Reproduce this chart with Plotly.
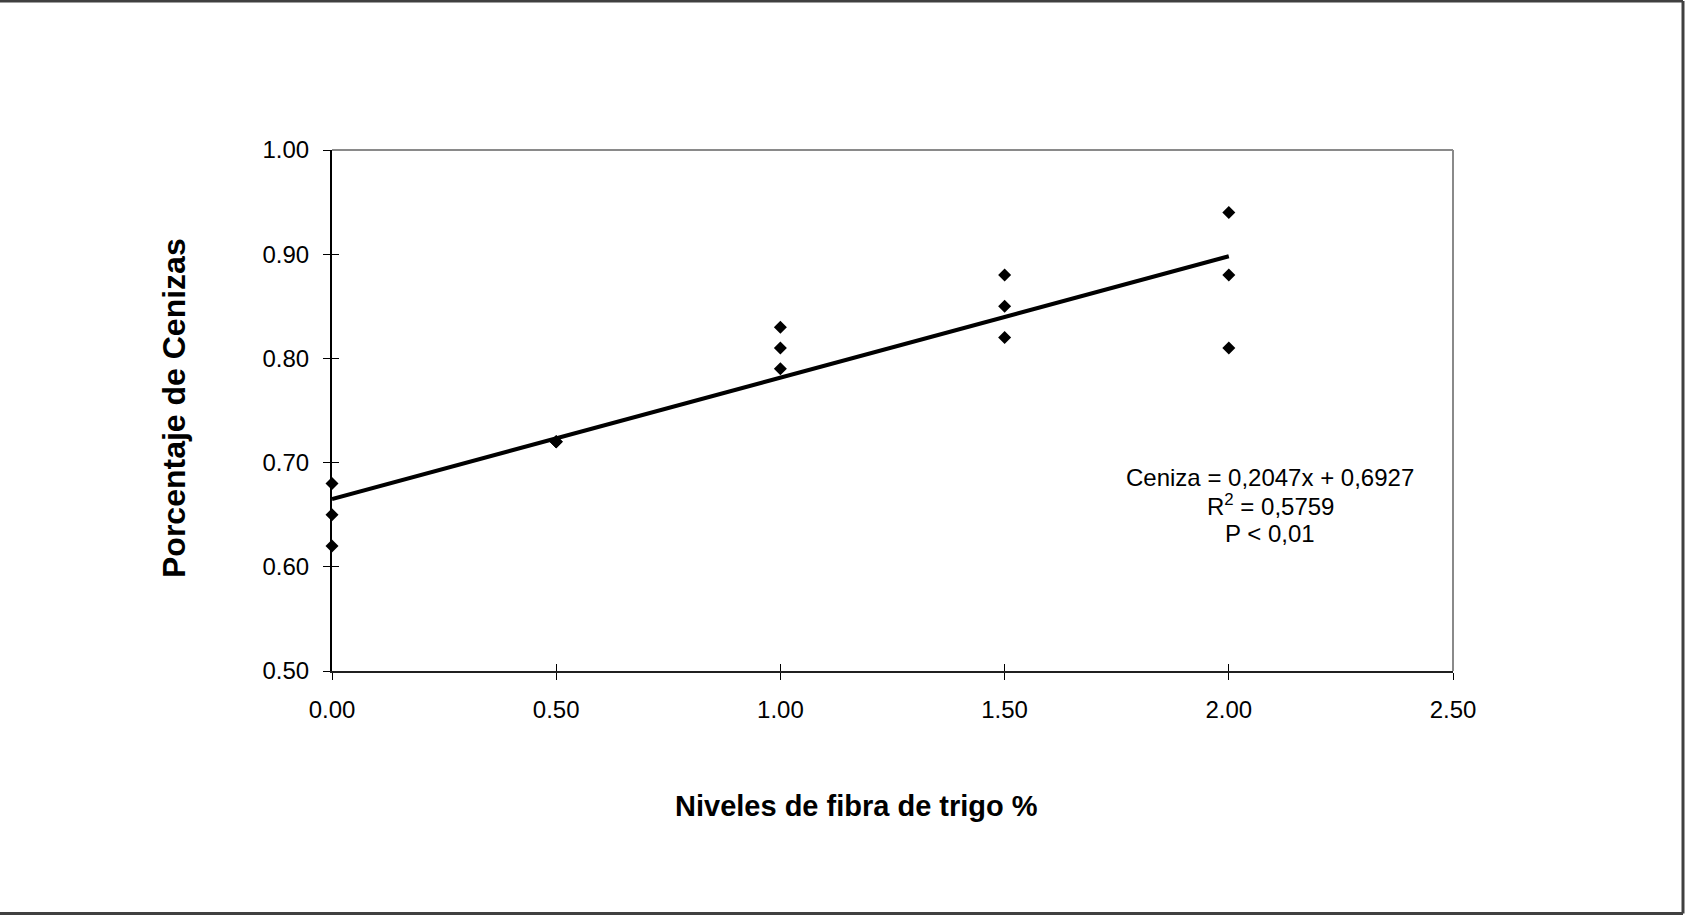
import plotly.graph_objects as go

# ---- data ----
fibra = [0, 0, 0, 0.5, 0.5, 0.5, 1, 1, 1, 1.5, 1.5, 1.5, 2, 2, 2]
ceniza = [0.68, 0.65, 0.62, 0.72, 0.72, 0.72, 0.83, 0.81, 0.79,
          0.88, 0.85, 0.82, 0.94, 0.88, 0.81]
tendencia_x = [0, 2]
tendencia_y = [0.665, 0.898]
x_ticks = [0, 0.5, 1.0, 1.5, 2.0, 2.5]
y_ticks = [0.5, 0.6, 0.7, 0.8, 0.9, 1.0]
ecuacion = ["Ceniza = 0,2047x + 0,6927", "R<sup>2</sup> = 0,5759", "P < 0,01"]

# ---- layout geometry ----
W, H = 1685, 915
L, R, T, B = 332, 232, 150, 244
PW, PH = W - L - R, H - T - B


def px(xp):
    return (xp - L) / PW


def py(yp):
    return (H - B - yp) / PH


FONT = "Liberation Sans, Arial, sans-serif"

fig = go.Figure()
fig.add_trace(go.Scatter(x=fibra, y=ceniza, mode="markers",
                         marker=dict(symbol="diamond", size=10, color="black"),
                         showlegend=False, cliponaxis=False))
fig.add_trace(go.Scatter(x=tendencia_x, y=tendencia_y, mode="lines",
                         line=dict(color="black", width=4),
                         hoverinfo="skip", showlegend=False))
# helper trace for overlay axes (inside ticks)
fig.add_trace(go.Scatter(x=[None], y=[None], xaxis="x2", yaxis="y2",
                         showlegend=False, hoverinfo="skip"))

axis_common = dict(showgrid=False, zeroline=False, ticks="outside", ticklen=7,
                   tickwidth=1, tickcolor="black",
                   tickfont=dict(family=FONT, size=24, color="black"),
                   tickformat=".2f")

fig.update_layout(
    width=W, height=H,
    margin=dict(l=L, r=R, t=T, b=B),
    paper_bgcolor="white", plot_bgcolor="white",
    xaxis=dict(range=[0, 2.5], tickvals=x_ticks, showline=True,
               linecolor="#202020", linewidth=2, ticklabelstandoff=9,
               **axis_common),
    yaxis=dict(range=[0.5, 1.0], tickvals=y_ticks, showline=True,
               linecolor="black", linewidth=2, ticklabelstandoff=9,
               **axis_common),
    xaxis2=dict(range=[0, 2.5], tickvals=x_ticks, overlaying="x", anchor="y2",
                ticks="inside", ticklen=7, tickcolor="black", showticklabels=False,
                showgrid=False, zeroline=False, showline=False),
    yaxis2=dict(range=[0.5, 1.0], tickvals=y_ticks, overlaying="y", anchor="x2",
                ticks="inside", ticklen=7, tickcolor="black", showticklabels=False,
                showgrid=False, zeroline=False, showline=False),
    showlegend=False,
)

# gray plot-area border (top and right)
fig.add_shape(type="line", xref="paper", yref="paper", x0=0, x1=1, y0=1, y1=1,
              line=dict(color="#8a8a8a", width=2))
fig.add_shape(type="line", xref="paper", yref="paper", x0=1, x1=1, y0=0, y1=1,
              line=dict(color="#8a8a8a", width=2))

# outer chart border (top, right, bottom)
fig.add_shape(type="line", xref="paper", yref="paper",
              x0=px(-5), x1=px(1683), y0=py(1), y1=py(1),
              line=dict(color="#404040", width=3))
fig.add_shape(type="line", xref="paper", yref="paper",
              x0=px(1683), x1=px(1683), y0=py(1), y1=py(913.5),
              line=dict(color="#404040", width=3))
fig.add_shape(type="line", xref="paper", yref="paper",
              x0=px(-5), x1=px(1683), y0=py(913.5), y1=py(913.5),
              line=dict(color="#404040", width=3))

# axis titles
fig.add_annotation(text="<b>Porcentaje de Cenizas</b>", xref="paper", yref="paper",
                   x=px(174), y=py(408), textangle=-90, showarrow=False,
                   xanchor="center", yanchor="middle",
                   font=dict(family=FONT, size=32, color="black"))
fig.add_annotation(text="<b>Niveles de fibra de trigo %</b>", xref="paper", yref="paper",
                   x=px(856), y=py(806), showarrow=False,
                   xanchor="center", yanchor="middle",
                   font=dict(family=FONT, size=29, color="black"))

# equation text (one line per annotation for exact spacing)
for linea, ypix in zip(ecuacion, [478, 505, 533]):
    fig.add_annotation(text=linea, xref="paper", yref="paper", x=px(1270), y=py(ypix),
                       showarrow=False, xanchor="center", yanchor="middle",
                       font=dict(family=FONT, size=24, color="black"))

fig.write_html("out.html")
